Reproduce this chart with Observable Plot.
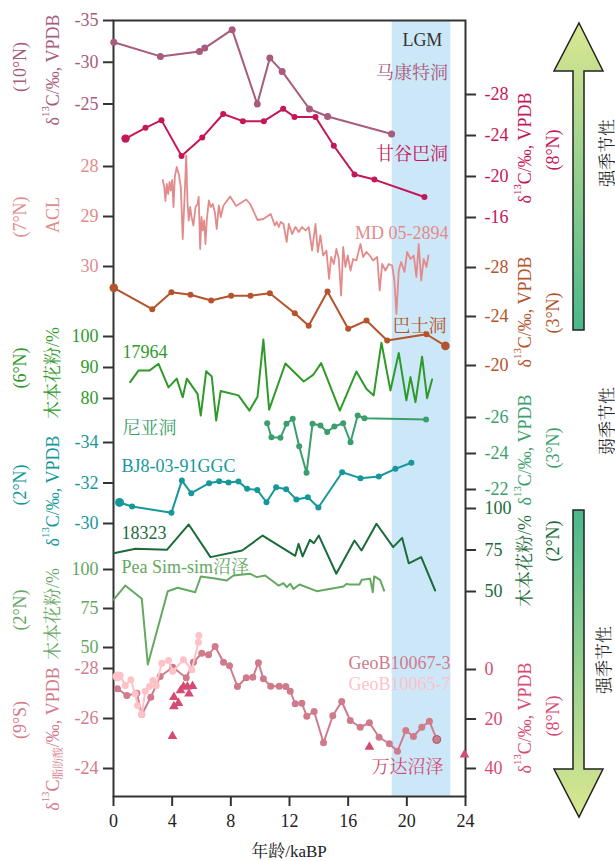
<!DOCTYPE html>
<html><head><meta charset="utf-8">
<script src="https://cdn.jsdelivr.net/npm/d3@7"></script>
<script src="https://cdn.jsdelivr.net/npm/@observablehq/plot@0.6"></script>
<style>
html,body{margin:0;padding:0;background:#fff;}
#chart{position:relative;width:615px;height:861px;}
#chart svg{position:absolute;left:0;top:0;background:transparent;overflow:visible;}
</style></head><body><div id="chart"></div>
<script>
// ---------- data ----------
const xTicks = [0, 4, 8, 12, 16, 20, 24];
const lgm = [{x1: 19, x2: 23}];

const makangAge = [0.02, 3.2, 5.86, 6.22, 8.09, 9.8, 10.66, 11.5, 13.36, 14.6, 18.96];
const makangVal = [-32.4, -30.7, -31.3, -31.7, -33.9, -25.0, -30.5, -28.9, -24.4, -23.5, -21.4];
const makangTicks = [-35, -30, -25];

const gangubaAge = [0.82, 2.18, 3.27, 4.64, 6.05, 7.48, 8.82, 10.25, 11.57, 12.34, 13.77, 15.02, 16.43, 17.79, 21.2];
const gangubaVal = [-23.7, -24.75, -25.5, -22.0, -23.8, -26.1, -25.4, -25.4, -26.6, -25.8, -25.8, -23.0, -20.2, -19.7, -18.0];
const gangubaTicks = [-28, -24, -20, -16];

const aclAge = [3.36,3.46,3.54,3.63,3.73,3.82,3.91,4.0,4.09,4.18,4.31,4.45,4.59,4.72,4.84,4.96,5.04,5.13,5.23,5.32,5.45,5.59,5.73,5.81,5.91,6.0,6.09,6.18,6.27,6.36,6.5,6.63,6.77,6.91,7.04,7.18,7.31,7.5,7.95,8.36,9.05,9.32,9.82,10.22,10.72,11.0,11.13,11.27,11.4,11.59,11.81,11.95,12.18,12.41,12.63,12.86,13.09,13.31,13.54,13.77,13.93,14.11,14.29,14.52,14.7,14.84,15.02,15.2,15.36,15.52,15.66,15.81,15.97,16.16,16.34,16.56,16.84,17.02,17.25,17.47,17.7,17.98,18.15,18.32,18.54,18.77,19.0,19.15,19.29,19.45,19.61,19.84,20.02,20.25,20.47,20.65,20.81,20.98,21.15,21.34,21.47];
const aclVal = [28.27,28.41,28.69,28.35,28.55,28.31,28.48,28.27,28.81,28.21,28.01,28.15,28.41,29.45,28.65,27.78,28.68,29.08,28.81,29.01,29.18,28.81,28.75,28.61,29.65,29.01,29.28,29.08,29.55,29.08,28.68,28.81,28.75,28.91,29.25,28.78,29.01,28.78,28.6,28.79,28.66,28.75,29.07,29.05,28.95,29.18,29.11,29.21,29.11,29.15,29.51,29.15,29.35,29.21,29.31,29.21,29.28,29.21,29.68,29.15,29.71,29.38,29.78,29.68,30.25,29.81,29.95,29.65,29.85,30.58,29.61,30.01,29.78,30.08,29.85,29.88,29.55,29.81,29.71,29.78,29.88,29.81,30.48,29.95,30.08,29.95,29.98,30.28,30.95,30.08,29.91,30.11,29.71,29.85,29.78,30.21,29.55,30.28,29.85,30.01,29.78];
const aclTicks = [28, 29, 30];

const bashiAge = [0.02, 2.64, 3.95, 5.25, 6.66, 8.02, 9.34, 10.66, 12.36, 13.31, 14.59, 16.0, 17.25, 18.66, 21.34, 22.63];
const bashiVal = [-26.34, -24.6, -25.98, -25.77, -25.3, -25.7, -25.7, -25.9, -24.27, -23.24, -26.04, -23.0, -23.67, -22.04, -22.55, -21.6];
const bashiTicks = [-28, -24, -20];

const p17964Age = [1.14,1.7,2.45,3.07,3.75,4.31,4.72,5.0,5.73,5.95,6.32,6.7,7.0,7.31,8.52,9.27,9.82,10.22,10.61,11.72,12.97,13.61,14.16,15.43,16.56,17.25,17.74,18.27,18.88,19.45,19.97,20.25,20.59,21.04,21.38,21.72];
const p17964Val = [85.3,89.0,89.0,91.2,83.6,86.4,80.4,86.4,81.5,74.5,88.8,87.1,72.9,82.4,81.0,76.1,80.6,99.0,76.4,91.3,85.5,87.6,91.4,76.1,88.7,83.1,81.0,98.0,82.6,94.7,79.4,86.9,78.8,93.5,80.1,86.1];
const p17964Ticks = [80, 90, 100];

const niahAge = [10.48, 10.77, 11.38, 11.79, 12.22, 12.66, 13.16, 13.57, 14.11, 14.57, 15.06, 15.66, 16.16, 16.65, 17.11, 21.31];
const niahVal = [-25.68, -24.9, -24.87, -25.65, -25.93, -24.4, -22.93, -25.65, -25.56, -25.2, -25.5, -25.68, -24.63, -26.11, -25.96, -25.89];
const niahTicks = [-26, -24, -22];

const bj8Age = [0.41, 1.27, 3.95, 4.66, 5.3, 6.52, 7.2, 7.84, 8.52, 9.11, 9.8, 10.43, 11.09, 11.77, 12.47, 13.25, 13.97, 15.59, 16.84, 18.09, 19.22, 20.31];
const bj8Val = [-31.04, -30.84, -30.53, -32.12, -31.5, -31.99, -32.09, -32.02, -32.07, -31.71, -31.66, -31.05, -31.79, -31.69, -31.19, -31.3, -30.79, -32.53, -32.24, -32.32, -32.7, -33.0];
const bj8Ticks = [-34, -32, -30];

const p18323Age = [0.02, 1.5, 3.64, 5.13, 6.61, 8.77, 10.17, 12.39, 12.62, 12.89, 13.39, 13.66, 14.0, 15.19, 16.43, 16.91, 17.93, 19.07, 19.68, 20.13, 20.98, 21.93];
const p18323Val = [73.1, 75.7, 75.1, 90.4, 70.7, 74.7, 83.7, 71.5, 78.7, 71.1, 81.1, 79.1, 83.7, 60.7, 80.7, 74.7, 90.8, 76.7, 82.3, 67.0, 70.7, 50.6];
const p18323Ticks = [50, 75, 100];

const peaAge = [0, 0.8, 1.93, 2.34, 3.7, 4.38, 5.57, 5.95, 6.82, 7.72, 8.18, 9.32, 9.77, 10.34, 11.25, 11.59, 11.81, 12.05, 12.27, 12.68, 13.86, 15.68, 15.9, 16.09, 16.77, 16.93, 17.5, 17.68, 17.77, 17.95, 18.18, 18.45];
const peaVal = [80.6, 89.7, 81.2, 39.1, 86.1, 88.3, 85.4, 95.5, 94.4, 92.9, 96.2, 97.2, 95.1, 96.2, 89.7, 91.2, 88.7, 90.8, 87.6, 90.4, 86.1, 89.1, 90.8, 90.4, 90.4, 93.4, 94.0, 85.4, 95.5, 94.7, 93.4, 86.5];
const peaTicks = [50, 75, 100];

const geo67Age = [0.27, 0.91, 1.59, 1.93, 2.54, 3.18, 4.04, 4.96, 5.45, 6.02, 6.48, 6.93, 7.5, 7.91, 8.45, 9.05, 9.5, 9.88, 10.22, 10.72, 11.3, 11.75, 12.05, 12.39, 12.84, 13.18, 13.68, 14.32, 14.95, 15.56, 16.14, 16.82, 17.45, 18.11, 18.81, 19.36, 19.93, 20.45, 21.02, 21.54, 22.04];
const geo67Val = [-27.19, -26.92, -27.01, -26.16, -26.85, -27.68, -28.05, -27.63, -28.25, -28.61, -28.55, -28.88, -28.25, -28.11, -27.28, -27.63, -27.65, -28.23, -27.59, -27.29, -27.29, -27.28, -27.09, -26.59, -26.61, -26.09, -26.28, -25.03, -26.11, -26.68, -25.92, -25.65, -25.83, -25.25, -24.99, -24.69, -25.52, -25.28, -25.65, -25.89, -25.16];
const geo65Age = [0.27, 0.46, 0.8, 1.18, 1.48, 1.64, 1.93, 2.16, 2.45, 2.68, 2.91, 3.29, 3.75, 4.04, 4.77, 5.34, 5.79, 5.82];
const geo65Val = [-27.68, -27.72, -27.32, -27.55, -26.99, -26.52, -26.16, -27.09, -27.28, -27.52, -27.32, -28.21, -28.32, -27.89, -28.35, -27.95, -29.05, -29.32];
const geoTicks = [-28, -26, -24];

const wandaAge = [4.02, 4.12, 4.12, 4.43, 4.57, 4.77, 5.04, 5.15, 5.39, 17.45, 23.93];
const wandaVal = [26.9, 11.2, 14.9, 13.6, 8.5, 6.9, 6.9, 9.8, 6.7, 31.3, 34.4];
const wandaTicks = [0, 20, 40];

// ---------- layout ----------
const W = 615, H = 861, ML = 113, MR = 150, MT = 20, MB = 65;
const FONT = "'Liberation Serif', 'Times New Roman', 'Noto Serif CJK SC', 'Noto Sans CJK SC', serif";
const chart = document.getElementById("chart");
const C = {
  makang: "#a85b7c", ganguba: "#c4165a", acl: "#e38b8b", bashi: "#b4532c",
  p17964: "#2f9a2a", niah: "#3a9f6c", bj8: "#16989a", p18323: "#1c6b3a",
  pea: "#64a862", geo67: "#cf7b8c", geo65: "#ffc2c8", wanda: "#d64b72"
};
const zip = (a, v) => a.map((d, i) => ({age: d, v: v[i]}));

function layer(opts) {
  const svg = Plot.plot({
    width: W, height: H, marginLeft: ML, marginRight: MR, marginTop: MT, marginBottom: MB,
    x: {domain: [0, 24], axis: null},
    ...opts
  });
  svg.style.background = "transparent";
  svg.style.fontFamily = FONT;
  svg.style.position = "absolute";
  svg.style.left = "0"; svg.style.top = "0";
  svg.style.overflow = "visible";
  chart.append(svg);
}

function axis(anchor, ticks, color) {
  return Plot.axisY({anchor, ticks, tickSize: 10, tickPadding: anchor === "left" ? 5 : 9,
    tickFormat: d => String(d), stroke: "#333", strokeWidth: 2, fill: color, fontSize: 18, label: null});
}
function lbl(text, x, y, color, anchor = "end") {
  return Plot.text([text], {x: () => x, y: () => y, text: d => d, fill: color, fontSize: 18, textAnchor: anchor});
}

// base layer: LGM band, frame, x axis
layer({
  marks: [
    Plot.rect(lgm, {x1: "x1", x2: "x2", fill: "#cce8f8"}),
    Plot.frame({stroke: "#333", strokeWidth: 2}),
    Plot.axisX({anchor: "bottom", ticks: xTicks, tickSize: 10, tickPadding: 8, stroke: "#333", strokeWidth: 2,
      fill: "#222", fontSize: 18, label: null, tickFormat: d => String(d)})
  ]
});

// 马康特洞
{
  const d = zip(makangAge, makangVal);
  layer({y: {domain: [-35, -25], range: [20, 103.5]}, marks: [
    axis("left", makangTicks, C.makang),
    Plot.line(d, {x: "age", y: "v", stroke: C.makang, strokeWidth: 2}),
    Plot.dot(d, {x: "age", y: "v", fill: C.makang, r: 3.5}),
    Plot.text(["LGM"], {x: () => 21.06, y: () => -32.6, text: d => d, fill: "#333", fontSize: 18}),
    lbl("马康特洞", 22.8, -28.65, C.makang)
  ]});
}
// 甘谷巴洞
{
  const d = zip(gangubaAge, gangubaVal);
  layer({y: {domain: [-28, -16], range: [94, 217]}, marks: [
    axis("right", gangubaTicks, C.ganguba),
    Plot.line(d, {x: "age", y: "v", stroke: C.ganguba, strokeWidth: 2}),
    Plot.dot(d, {x: "age", y: "v", fill: C.ganguba, r: 3}),
    Plot.dot(d.slice(0, 1), {x: "age", y: "v", fill: C.ganguba, r: 4.2}),
    lbl("甘谷巴洞", 22.8, -22.15, C.ganguba)
  ]});
}
// ACL MD 05-2894
{
  const d = zip(aclAge, aclVal);
  layer({y: {domain: [28, 30], range: [166, 266]}, marks: [
    axis("left", aclTicks, C.acl),
    Plot.line(d, {x: "age", y: "v", stroke: C.acl, strokeWidth: 1.8}),
    lbl("MD 05-2894", 22.84, 29.34, C.acl)
  ]});
}
// 巴士洞
{
  const d = zip(bashiAge, bashiVal);
  layer({y: {domain: [-28, -20], range: [267, 365]}, marks: [
    axis("right", bashiTicks, C.bashi),
    Plot.line(d, {x: "age", y: "v", stroke: C.bashi, strokeWidth: 2}),
    Plot.dot(d, {x: "age", y: "v", fill: C.bashi, r: 3}),
    Plot.dot([d[0], d[d.length - 1]], {x: "age", y: "v", fill: C.bashi, r: 4.3}),
    lbl("巴士洞", 22.7, -23.18, C.bashi)
  ]});
}
// 17964
{
  const d = zip(p17964Age, p17964Val);
  layer({y: {domain: [80, 100], range: [398, 336]}, marks: [
    axis("left", p17964Ticks, C.p17964),
    Plot.line(d, {x: "age", y: "v", stroke: C.p17964, strokeWidth: 2}),
    lbl("17964", 0.61, 94.8, C.p17964, "start")
  ]});
}
// 尼亚洞
{
  const d = zip(niahAge, niahVal);
  layer({y: {domain: [-26, -22], range: [417, 489]}, marks: [
    axis("right", niahTicks, C.niah),
    Plot.line(d, {x: "age", y: "v", stroke: C.niah, strokeWidth: 2}),
    Plot.dot(d, {x: "age", y: "v", fill: C.niah, r: 3}),
    lbl("尼亚洞", 0.61, -25.39, C.niah, "start")
  ]});
}
// BJ8-03-91GGC
{
  const d = zip(bj8Age, bj8Val);
  layer({y: {domain: [-34, -30], range: [442, 523]}, marks: [
    axis("left", bj8Ticks, C.bj8),
    Plot.line(d, {x: "age", y: "v", stroke: C.bj8, strokeWidth: 2}),
    Plot.dot(d, {x: "age", y: "v", fill: C.bj8, r: 3}),
    Plot.dot(d.slice(0, 1), {x: "age", y: "v", fill: C.bj8, r: 4.5}),
    lbl("BJ8-03-91GGC", 0.55, -32.81, C.bj8, "start")
  ]});
}
// 18323
{
  const d = zip(p18323Age, p18323Val);
  layer({y: {domain: [50, 100], range: [591, 508]}, marks: [
    axis("right", p18323Ticks, C.p18323),
    Plot.line(d, {x: "age", y: "v", stroke: C.p18323, strokeWidth: 2}),
    lbl("18323", 0.55, 84.9, C.p18323, "start")
  ]});
}
// Pea Sim-sim
{
  const d = zip(peaAge, peaVal);
  layer({y: {domain: [50, 100], range: [647, 569]}, marks: [
    axis("left", peaTicks, C.pea),
    Plot.line(d, {x: "age", y: "v", stroke: C.pea, strokeWidth: 2}),
    lbl("Pea Sim-sim沼泽", 0.55, 101.3, C.pea, "start")
  ]});
}
// GeoB
{
  const d7 = zip(geo67Age, geo67Val);
  const d5 = zip(geo65Age, geo65Val);
  layer({y: {domain: [-28, -24], range: [668, 768]}, marks: [
    axis("left", geoTicks, "#d47a8c"),
    Plot.line(d7, {x: "age", y: "v", stroke: C.geo67, strokeWidth: 2}),
    Plot.dot(d7, {x: "age", y: "v", fill: C.geo67, r: 3.5}),
    Plot.dot(d7.slice(-1), {x: "age", y: "v", fill: C.geo67, stroke: "#a05868", strokeWidth: 1, r: 4}),
    Plot.line(d5, {x: "age", y: "v", stroke: C.geo65, strokeWidth: 2}),
    Plot.dot(d5, {x: "age", y: "v", fill: C.geo65, r: 3.5}),
    Plot.dot(d5.slice(0, 1), {x: "age", y: "v", fill: C.geo65, r: 5}),
    lbl("GeoB10067-3", 22.97, -28.2, C.geo67),
    lbl("GeoB10065-7", 22.97, -27.36, C.geo65)
  ]});
}
// 万达沼泽
{
  const d = zip(wandaAge, wandaVal);
  layer({y: {domain: [0, 40], range: [669, 768]}, marks: [
    axis("right", wandaTicks, C.wanda),
    Plot.dot(d, {x: "age", y: "v", fill: C.wanda, symbol: "triangle", r: 3.6}),
    lbl("万达沼泽", 22.5, 39.5, C.wanda)
  ]});
}

// ---------- overlay: axis titles, arrows ----------
const ov = d3.select("#chart").append("svg").attr("width", W).attr("height", H)
  .style("font-family", FONT);

function vtext(x, y, parts, color, size = 18) {
  const t = ov.append("text").attr("transform", `translate(${x},${y}) rotate(-90)`)
    .attr("text-anchor", "middle").attr("dominant-baseline", "central")
    .attr("fill", color).style("font-size", size + "px");
  let shift = 0;
  parts.forEach(p => {
    const s = typeof p === "string" ? {t: p} : p;
    const ts = t.append("tspan").text(s.t);
    const want = s.sup ? -0.45 * size : s.sub ? 0.3 * size : 0;
    if (want !== shift) { ts.attr("dy", want - shift); shift = want; }
    if (s.sup || s.sub) ts.style("font-size", (size * 0.6) + "px");
  });
}
const d13 = ["δ", {t: "13", sup: true}, "C/‰, VPDB"];

// left titles
vtext(53, 70, d13, C.makang);
vtext(20, 67, ["(10°N)"], C.makang);
vtext(53, 215, ["ACL"], C.acl);
vtext(20, 217, ["(7°N)"], C.acl);
vtext(53, 373, ["木本花粉/%"], C.p17964);
vtext(20, 368, ["(6°N)"], C.p17964);
vtext(53, 491, d13, C.bj8);
vtext(20, 485, ["(2°N)"], C.bj8);
vtext(53, 614, ["木本花粉/%"], C.pea);
vtext(20, 610, ["(2°N)"], C.pea);
vtext(53, 739, ["δ", {t: "13", sup: true}, "C", {t: "脂肪酸", sub: true}, "/‰, VPDB"], "#d47a8c");
vtext(20, 720, ["(9°S)"], "#d47a8c");

// right titles
vtext(525, 148, d13, C.ganguba);
vtext(553, 150, ["(8°N)"], C.ganguba);
vtext(525, 312, d13, C.bashi);
vtext(553, 313, ["(3°N)"], C.bashi);
vtext(525, 450, d13, C.niah);
vtext(553, 448, ["(3°N)"], C.niah);
vtext(525, 561, ["木本花粉/%"], C.p18323);
vtext(553, 541, ["(2°N)"], C.p18323);
vtext(525, 718, d13, C.wanda);
vtext(553, 716, ["(8°N)"], C.wanda);

// x title
ov.append("text").attr("x", 289).attr("y", 851).attr("text-anchor", "middle")
  .attr("dominant-baseline", "central").attr("fill", "#222").style("font-size", "17px").text("年龄/kaBP");

// arrows
const defs = ov.append("defs");
const g1 = defs.append("linearGradient").attr("id", "gUp").attr("x1", 0).attr("y1", 0).attr("x2", 0).attr("y2", 1);
g1.append("stop").attr("offset", "0%").attr("stop-color", "#dbe790");
g1.append("stop").attr("offset", "100%").attr("stop-color", "#4ab88a");
const g2 = defs.append("linearGradient").attr("id", "gDown").attr("x1", 0).attr("y1", 0).attr("x2", 0).attr("y2", 1);
g2.append("stop").attr("offset", "0%").attr("stop-color", "#4ab88a");
g2.append("stop").attr("offset", "100%").attr("stop-color", "#dbe790");
ov.append("polygon").attr("points", "579,23 603,71 584,71 584,330 573,330 573,71 554,71")
  .attr("fill", "url(#gUp)").attr("stroke", "#222").attr("stroke-width", 1.5);
ov.append("polygon").attr("points", "573,510 584,510 584,769 603,769 579,817 554,769 573,769")
  .attr("fill", "url(#gDown)").attr("stroke", "#222").attr("stroke-width", 1.5);
vtext(607, 153, ["强季节性"], "#222", 17);
vtext(607, 421, ["弱季节性"], "#222", 17);
vtext(604, 660, ["强季节性"], "#222", 17);
</script></body></html>
